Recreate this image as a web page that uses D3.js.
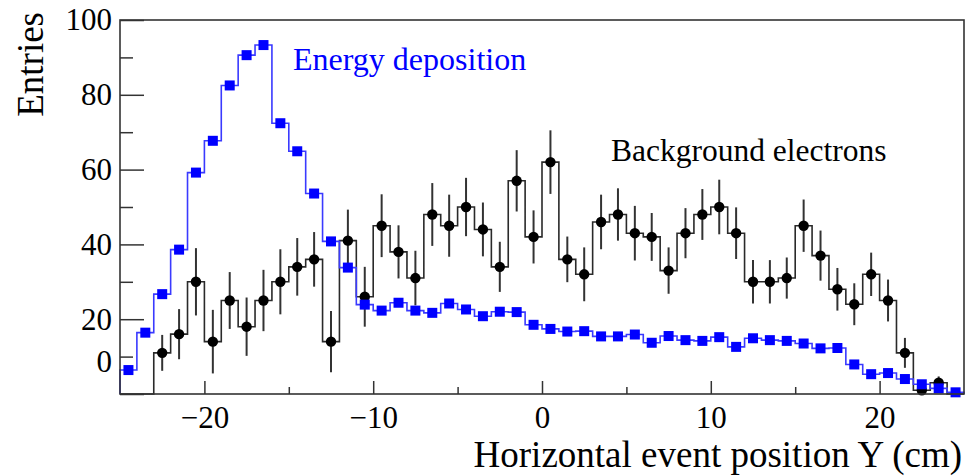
<!DOCTYPE html>
<html>
<head>
<meta charset="utf-8">
<script src="https://cdn.jsdelivr.net/npm/d3@7"></script>
<style>
  html, body { margin: 0; padding: 0; background: #fff; }
  svg { display: block; font-family: "Liberation Serif", "Times New Roman", serif; }
</style>
</head>
<body>
<svg id="chart" width="974" height="476"></svg>
<script>
// 1 cm bins from -25 to 25
var binEdges = d3.range(-25, 26, 1);
var energyDep = [
  6.4, 16.4, 26.7, 38.6, 59.2, 67.7, 82.5, 90.6, 93.3, 72.4,
  64.9, 53.6, 40.8, 33.8, 23.9, 22.3, 24.4, 22.3, 21.7, 24.2,
  22.6, 20.8, 22.0, 21.9, 18.5, 17.4, 16.7, 16.8, 15.4, 15.4,
  15.9, 13.7, 15.5, 14.4, 14.2, 15.2, 12.6, 14.9, 14.4, 14.2,
  13.5, 12.2, 12.3, 7.9, 5.3, 5.6, 4.0, 2.6, 1.5, 0.45
];
var bkgElectrons = [
  0, 0, 11, 16, 30, 14, 25, 18, 25, 30,
  34, 36, 14, 41, 26, 45, 38, 31, 48, 45,
  50, 44, 34, 57, 42, 62, 36, 32, 46, 48,
  43, 42, 33, 43, 48, 50, 43, 30, 30, 31,
  45, 37, 28, 24, 32, 25, 11, 1, 3, 0
];
var bkgErrors = [
  0, 0, 4.8, 6.7, 9, 8.5, 7.6, 7.8, 8.2, 8.7,
  7.7, 7.3, 8.2, 8.3, 8, 8.4, 7.1, 7.3, 8.4, 8.3,
  7.8, 7.2, 6.7, 8.2, 7.1, 8.5, 6.1, 7.2, 7.3, 7,
  7.3, 6.4, 6.2, 6.7, 6.8, 7.3, 6.9, 5.8, 5.8, 5.5,
  7, 6.7, 5.7, 5.6, 5.8, 5.6, 4, 1, 1.7, 0
];
var yMajorTicks = [0, 20, 40, 60, 80, 100];
var yMinorTicks = [10, 30, 50, 70, 90];
var xMajorTicks = [-20, -10, 0, 10, 20];
var xMinorTicks = [-15, -5, 5, 15];

var serif = '"Liberation Serif", "Times New Roman", serif';
var frame = {left: 120, right: 964, top: 20, bottom: 394};
var svg = d3.select('#chart');
var x = d3.scaleLinear().domain([-25, 25]).range([frame.left, frame.right]);
var y = d3.scaleLinear().domain([0, 100]).range([frame.bottom, frame.top]);

function stepPoints(vals){
  var pts = [[binEdges[0], 0]];
  vals.forEach(function(v, i){
    pts.push([binEdges[i], v]);
  });
  pts.push([binEdges[binEdges.length - 1], vals[vals.length - 1]]);
  pts.push([binEdges[binEdges.length - 1], 0]);
  return pts;
}
var stepLine = d3.line().x(function(d){ return x(d[0]); }).y(function(d){ return y(d[1]); }).curve(d3.curveStepAfter);
var center = function(i){ return (binEdges[i] + binEdges[i + 1]) / 2; };

// background electrons: step outline, error bars, circles
svg.append('path').attr('d', stepLine(stepPoints(bkgElectrons)))
  .attr('fill', 'none').attr('stroke', '#2a2a2a').attr('stroke-width', 1.6);
var bk = bkgElectrons.map(function(v, i){ return {i: i, v: v, e: bkgErrors[i]}; }).filter(function(d){ return d.v > 0; });
svg.selectAll('line.err').data(bk).enter().append('line').attr('class', 'err')
  .attr('x1', function(d){ return x(center(d.i)); })
  .attr('x2', function(d){ return x(center(d.i)); })
  .attr('y1', function(d){ return y(d.v + d.e); })
  .attr('y2', function(d){ return y(Math.max(d.v - d.e, 0)); })
  .attr('stroke', '#333').attr('stroke-width', 2);
svg.selectAll('circle.bkg').data(bk).enter().append('circle').attr('class', 'bkg')
  .attr('cx', function(d){ return x(center(d.i)); })
  .attr('cy', function(d){ return y(d.v); })
  .attr('r', 5.2).attr('fill', '#000');

// energy deposition: step outline + squares
svg.append('path').attr('d', stepLine(stepPoints(energyDep)))
  .attr('fill', 'none').attr('stroke', '#3a3aff').attr('stroke-width', 1.6);
var sq = 10;
svg.selectAll('rect.edep').data(energyDep).enter().append('rect').attr('class', 'edep')
  .attr('x', function(d, i){ return x(center(i)) - sq / 2; })
  .attr('y', function(d){ return y(d) - sq / 2; })
  .attr('width', sq).attr('height', sq).attr('fill', '#0000ff');

// axes, ticks pointing inward
var yAxis = svg.append('g').attr('transform', 'translate(' + frame.left + ',0)')
  .call(d3.axisLeft(y).tickValues(yMajorTicks).tickSize(-24).tickPadding(8).tickFormat(d3.format('d')));
svg.append('g').attr('transform', 'translate(' + frame.left + ',0)')
  .call(d3.axisLeft(y).tickValues(yMinorTicks).tickSize(-13).tickFormat(''));
svg.append('g').attr('transform', 'translate(0,' + frame.bottom + ')')
  .call(d3.axisBottom(x).tickValues(xMajorTicks).tickSize(-13).tickPadding(12).tickFormat(d3.format('d')));
svg.append('g').attr('transform', 'translate(0,' + frame.bottom + ')')
  .call(d3.axisBottom(x).tickValues(xMinorTicks).tickSize(-7).tickFormat(''));
svg.selectAll('.domain').remove();
svg.selectAll('.tick line').attr('stroke', '#333').attr('stroke-width', 1.5);
svg.selectAll('.tick text').attr('font-size', 31).attr('fill', '#000')
  .attr('font-family', serif).style('font-family', serif);
// the zero label sits a little above its tick in the original
yAxis.selectAll('.tick text').filter(function(d){ return d === 0; }).attr('dy', '-0.72em');

svg.append('rect').attr('x', frame.left).attr('y', frame.top)
  .attr('width', frame.right - frame.left).attr('height', frame.bottom - frame.top)
  .attr('fill', 'none').attr('stroke', '#333').attr('stroke-width', 1.6);

svg.append('text').attr('x', 962).attr('y', 467).attr('text-anchor', 'end')
  .attr('font-size', 37).text('Horizontal event position Y (cm)');
svg.append('text').attr('transform', 'translate(43,12) rotate(-90)').attr('text-anchor', 'end')
  .attr('font-size', 37).text('Entries');
svg.append('text').attr('x', 293).attr('y', 70).attr('font-size', 32).attr('fill', '#0000ff')
  .text('Energy deposition');
svg.append('text').attr('x', 611).attr('y', 161).attr('font-size', 31.5).attr('fill', '#000')
  .text('Background electrons');
</script>
</body>
</html>
